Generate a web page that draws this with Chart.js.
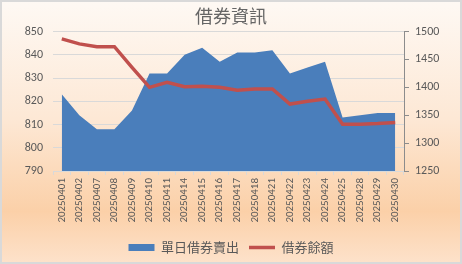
<!DOCTYPE html>
<html>
<head>
<meta charset="utf-8">
<script src="https://cdn.jsdelivr.net/npm/chart.js@4.4.1/dist/chart.umd.min.js"></script>
<style>
html,body{margin:0;padding:0;background:#fff;}
canvas{display:block;}
</style>
</head>
<body>
<canvas id="c" width="462" height="264"></canvas>
<script>
const categories = ["20250401","20250402","20250407","20250408","20250409","20250410","20250411","20250414","20250415","20250416","20250417","20250418","20250421","20250422","20250423","20250424","20250425","20250428","20250429","20250430"];
const dailyShortSales = [823,814,808,808,816,832,832,840,843,837,841,841,842,832,834.5,837,813,814,815,815];
const lendingBalance = [1487,1478,1473,1473,1436,1400,1409,1401,1402,1400,1395,1397,1397,1370,1375,1379,1334,1334,1335,1337];
const leftTicks = [790,800,810,820,830,840,850];
const rightTicks = [1250,1300,1350,1400,1450,1500];
const titleText = "借券資訊";
const seriesNames = ["單日借券賣出","借券餘額"];

const CJK = '"Noto Sans CJK TC","Noto Sans CJK SC",sans-serif';
const LAT = 'Calibri,"Liberation Sans","DejaVu Sans",sans-serif';

const bgPlugin = {
  id: 'bg',
  beforeDraw(chart) {
    const ctx = chart.ctx, w = chart.width, h = chart.height;
    const g = ctx.createLinearGradient(0, 0, 0, h);
    g.addColorStop(0, '#fef9f4');
    g.addColorStop(0.45, '#fde8d5');
    g.addColorStop(0.8, '#fbd0a8');
    g.addColorStop(1, '#fde2cb');
    ctx.save();
    ctx.fillStyle = g;
    ctx.fillRect(0, 0, w, h);
    ctx.strokeStyle = '#d9d9d9';
    ctx.lineWidth = 2;
    ctx.strokeRect(1, 1, w - 2, h - 2);
    ctx.restore();
  }
};

new Chart(document.getElementById('c'), {
  type: 'line',
  data: {
    labels: categories,
    datasets: [
      {
        label: seriesNames[0],
        data: dailyShortSales,
        yAxisID: 'y',
        fill: 'start',
        backgroundColor: '#4a7ebb',
        borderColor: '#4a7ebb',
        borderWidth: 0,
        pointRadius: 0,
        tension: 0,
        order: 1
      },
      {
        label: seriesNames[1],
        data: lendingBalance,
        yAxisID: 'y1',
        fill: false,
        borderColor: '#c0504d',
        backgroundColor: '#c0504d',
        borderWidth: 3.5,
        pointRadius: 0,
        tension: 0,
        borderCapStyle: 'butt',
        order: 0
      }
    ]
  },
  options: {
    responsive: false,
    animation: false,
    devicePixelRatio: 1,
    layout: { padding: { left: 0, right: 0, top: 0, bottom: 0 } },
    plugins: {
      tooltip: { enabled: false },
      title: {
        display: true,
        text: titleText,
        color: '#666666',
        font: { family: CJK, size: 18, weight: 'normal' },
        padding: { top: 5, bottom: 5 }
      },
      legend: {
        position: 'bottom',
        labels: {
          color: '#595959',
          font: { family: CJK, size: 13 },
          boxWidth: 26,
          boxHeight: 7,
          padding: 10,
          usePointStyle: true,
          pointStyleWidth: 26,
          generateLabels() {
            return [
              { text: seriesNames[0], fillStyle: '#4a7ebb', strokeStyle: '#4a7ebb', lineWidth: 0, pointStyle: 'rect', fontColor: '#595959', datasetIndex: 0 },
              { text: seriesNames[1], fillStyle: '#c0504d', strokeStyle: '#c0504d', lineWidth: 3.5, pointStyle: 'line', fontColor: '#595959', datasetIndex: 1 }
            ];
          }
        }
      }
    },
    scales: {
      x: {
        offset: true,
        grid: { offset: true, drawOnChartArea: false, drawTicks: true, tickLength: 4, color: '#d9d9d9' },
        border: { display: true, color: '#d9d9d9' },
        ticks: { autoSkip: false, minRotation: 90, maxRotation: 90, padding: 3, color: '#595959', font: { family: LAT, size: 11 } },
        afterFit(s) { s.height = 60; }
      },
      y: {
        position: 'left',
        min: 790, max: 850,
        afterBuildTicks(s) { s.ticks = leftTicks.map(v => ({ value: v })); },
        grid: { drawTicks: false, color: '#d9d9d9' },
        border: { display: false },
        ticks: { padding: 10, color: '#595959', font: { family: LAT, size: 12 }, callback: v => String(v) },
        afterFit(s) { s.width = 53; }
      },
      y1: {
        position: 'right',
        min: 1250, max: 1500,
        afterBuildTicks(s) { s.ticks = rightTicks.map(v => ({ value: v })); },
        grid: { drawOnChartArea: false, drawTicks: true, tickLength: 5, color: '#8c8c8c' },
        border: { display: true, color: '#8c8c8c' },
        ticks: { padding: 6, color: '#595959', font: { family: LAT, size: 12 }, callback: v => String(v) },
        afterFit(s) { s.width = 58; }
      }
    }
  },
  plugins: [bgPlugin]
});
</script>
</body>
</html>
